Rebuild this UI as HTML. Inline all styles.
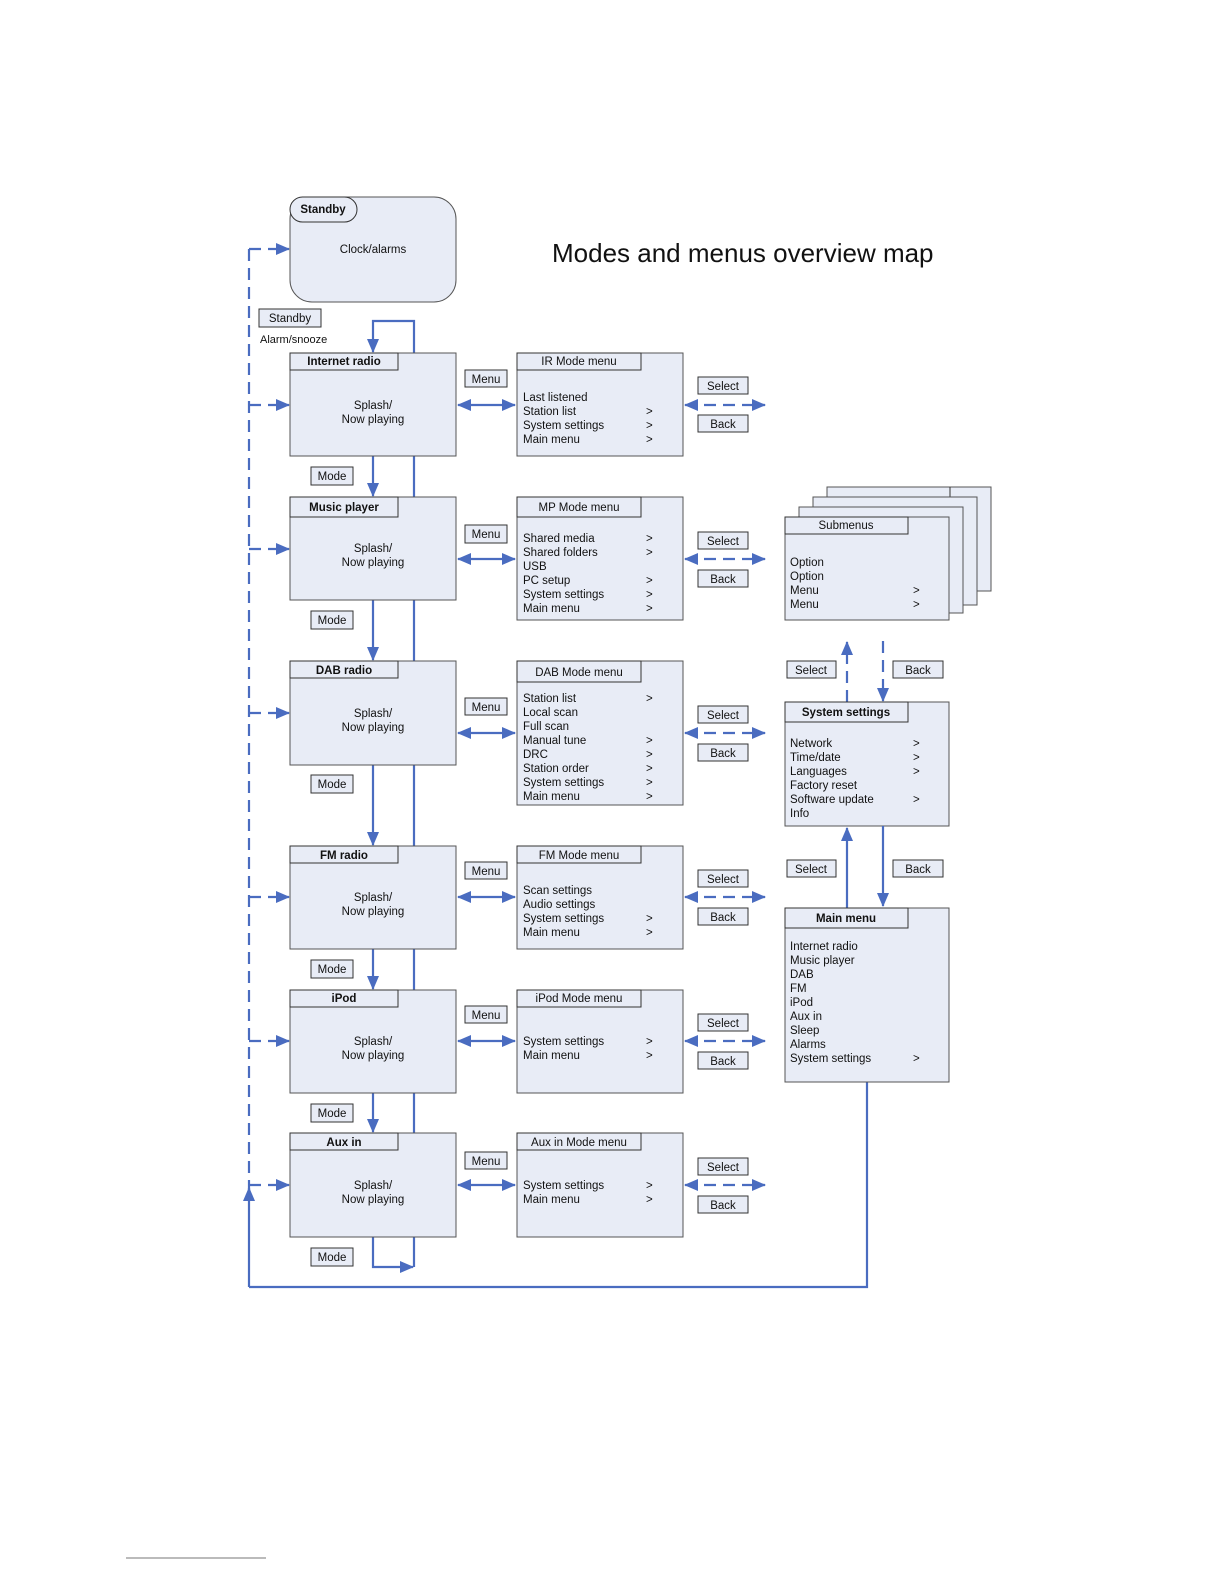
<!DOCTYPE html>
<html><head><meta charset="utf-8"><style>
html,body{margin:0;padding:0;background:#fff;overflow:hidden;width:1224px;height:1584px;}
svg{display:block;}
text{font-family:"Liberation Sans",Arial,sans-serif;font-size:11.5px;fill:#111;}
.b{font-weight:bold;}
.box{fill:#e8ecf6;stroke:#555;stroke-width:1;}
.hd{fill:#e8ecf6;stroke:#333;stroke-width:1;}
.lbl{fill:#e8ecf6;stroke:#333;stroke-width:1;}
.ln{stroke:#4a6cc0;stroke-width:2.2;fill:none;}
.ds{stroke:#4a6cc0;stroke-width:2.2;fill:none;stroke-dasharray:12,7;}
</style></head><body>
<svg width="1224" height="1584" viewBox="0 0 1224 1584" xmlns="http://www.w3.org/2000/svg">
<defs>
<marker id="as" markerWidth="14" markerHeight="12" refX="13" refY="6" orient="auto-start-reverse" markerUnits="userSpaceOnUse" viewBox="0 0 14 12"><path d="M0,0 L14,6 L0,12 z" fill="#4a6cc0"/></marker>
</defs>

<text x="552" y="262" style="font-size:26px">Modes and menus overview map</text>

<path class="ds" d="M249,249 V1190"/>
<path class="ln" d="M249,1287 V1188" marker-end="url(#as)"/>
<path class="ln" d="M249,1287 H867 V1082"/>
<g>
<path class="ds" d="M249,249 H289" marker-end="url(#as)"/>
<path class="ds" d="M249,405 H289" marker-end="url(#as)"/>
<path class="ds" d="M249,549 H289" marker-end="url(#as)"/>
<path class="ds" d="M249,713 H289" marker-end="url(#as)"/>
<path class="ds" d="M249,897 H289" marker-end="url(#as)"/>
<path class="ds" d="M249,1041 H289" marker-end="url(#as)"/>
<path class="ds" d="M249,1185 H289" marker-end="url(#as)"/>
</g>

<rect x="290" y="197" width="166" height="105" rx="22" class="box"/>
<rect x="290" y="197" width="67" height="25" rx="12.5" class="hd"/>
<text x="323" y="213" text-anchor="middle" class="b">Standby</text>
<text x="373" y="253" text-anchor="middle">Clock/alarms</text>
<rect x="259" y="309" width="62" height="18" class="lbl"/>
<text x="290" y="322" text-anchor="middle">Standby</text>
<text x="260" y="343" style="font-size:11px">Alarm/snooze</text>

<path class="ln" d="M414,1267 V321 H373 V352" marker-end="url(#as)"/>
<path class="ln" d="M373,456 V496" marker-end="url(#as)"/>
<path class="ln" d="M373,600 V660" marker-end="url(#as)"/>
<path class="ln" d="M373,765 V845" marker-end="url(#as)"/>
<path class="ln" d="M373,949 V989" marker-end="url(#as)"/>
<path class="ln" d="M373,1093 V1132" marker-end="url(#as)"/>
<path class="ln" d="M373,1237 V1267 H413" marker-end="url(#as)"/>

<g>
<rect x="290" y="353" width="166" height="103" class="box"/><rect x="290" y="353" width="108" height="17" class="hd"/>
<text x="344" y="365" text-anchor="middle" class="b">Internet radio</text>
<text x="373" y="409" text-anchor="middle">Splash/</text><text x="373" y="423" text-anchor="middle">Now playing</text>

<rect x="290" y="497" width="166" height="103" class="box"/><rect x="290" y="497" width="108" height="20" class="hd"/>
<text x="344" y="511" text-anchor="middle" class="b">Music player</text>
<text x="373" y="552" text-anchor="middle">Splash/</text><text x="373" y="566" text-anchor="middle">Now playing</text>

<rect x="290" y="661" width="166" height="104" class="box"/><rect x="290" y="661" width="108" height="17" class="hd"/>
<text x="344" y="674" text-anchor="middle" class="b">DAB radio</text>
<text x="373" y="717" text-anchor="middle">Splash/</text><text x="373" y="731" text-anchor="middle">Now playing</text>

<rect x="290" y="846" width="166" height="103" class="box"/><rect x="290" y="846" width="108" height="17" class="hd"/>
<text x="344" y="859" text-anchor="middle" class="b">FM radio</text>
<text x="373" y="901" text-anchor="middle">Splash/</text><text x="373" y="915" text-anchor="middle">Now playing</text>

<rect x="290" y="990" width="166" height="103" class="box"/><rect x="290" y="990" width="108" height="17" class="hd"/>
<text x="344" y="1002" text-anchor="middle" class="b">iPod</text>
<text x="373" y="1045" text-anchor="middle">Splash/</text><text x="373" y="1059" text-anchor="middle">Now playing</text>

<rect x="290" y="1133" width="166" height="104" class="box"/><rect x="290" y="1133" width="108" height="17" class="hd"/>
<text x="344" y="1146" text-anchor="middle" class="b">Aux in</text>
<text x="373" y="1189" text-anchor="middle">Splash/</text><text x="373" y="1203" text-anchor="middle">Now playing</text>
</g>

<g>
<rect x="311" y="467" width="42" height="18" class="lbl"/><text x="332" y="480" text-anchor="middle">Mode</text>
<rect x="311" y="611" width="42" height="18" class="lbl"/><text x="332" y="624" text-anchor="middle">Mode</text>
<rect x="311" y="775" width="42" height="18" class="lbl"/><text x="332" y="788" text-anchor="middle">Mode</text>
<rect x="311" y="960" width="42" height="18" class="lbl"/><text x="332" y="973" text-anchor="middle">Mode</text>
<rect x="311" y="1104" width="42" height="18" class="lbl"/><text x="332" y="1117" text-anchor="middle">Mode</text>
<rect x="311" y="1248" width="42" height="18" class="lbl"/><text x="332" y="1261" text-anchor="middle">Mode</text>
</g>

<g>
<rect x="465" y="370" width="42" height="17" class="lbl"/><text x="486" y="383" text-anchor="middle">Menu</text>
<path class="ln" d="M458,405 H515" marker-start="url(#as)" marker-end="url(#as)"/>
<rect x="465" y="525" width="42" height="18" class="lbl"/><text x="486" y="538" text-anchor="middle">Menu</text>
<path class="ln" d="M458,559 H515" marker-start="url(#as)" marker-end="url(#as)"/>
<rect x="465" y="698" width="42" height="17" class="lbl"/><text x="486" y="711" text-anchor="middle">Menu</text>
<path class="ln" d="M458,733 H515" marker-start="url(#as)" marker-end="url(#as)"/>
<rect x="465" y="862" width="42" height="17" class="lbl"/><text x="486" y="875" text-anchor="middle">Menu</text>
<path class="ln" d="M458,897 H515" marker-start="url(#as)" marker-end="url(#as)"/>
<rect x="465" y="1006" width="42" height="17" class="lbl"/><text x="486" y="1019" text-anchor="middle">Menu</text>
<path class="ln" d="M458,1041 H515" marker-start="url(#as)" marker-end="url(#as)"/>
<rect x="465" y="1152" width="42" height="17" class="lbl"/><text x="486" y="1165" text-anchor="middle">Menu</text>
<path class="ln" d="M458,1185 H515" marker-start="url(#as)" marker-end="url(#as)"/>
</g>

<g>
<rect x="517" y="353" width="166" height="103" class="box"/><rect x="517" y="353" width="124" height="17" class="hd"/>
<text x="579" y="365" text-anchor="middle">IR Mode menu</text>
<text x="523" y="401">Last listened</text>
<text x="523" y="415">Station list</text><text x="646" y="415">&gt;</text>
<text x="523" y="429">System settings</text><text x="646" y="429">&gt;</text>
<text x="523" y="443">Main menu</text><text x="646" y="443">&gt;</text>

<rect x="517" y="497" width="166" height="123" class="box"/><rect x="517" y="497" width="124" height="20" class="hd"/>
<text x="579" y="511" text-anchor="middle">MP Mode menu</text>
<text x="523" y="542">Shared media</text><text x="646" y="542">&gt;</text>
<text x="523" y="556">Shared folders</text><text x="646" y="556">&gt;</text>
<text x="523" y="570">USB</text>
<text x="523" y="584">PC setup</text><text x="646" y="584">&gt;</text>
<text x="523" y="598">System settings</text><text x="646" y="598">&gt;</text>
<text x="523" y="612">Main menu</text><text x="646" y="612">&gt;</text>

<rect x="517" y="661" width="166" height="144" class="box"/><rect x="517" y="661" width="124" height="21" class="hd"/>
<text x="579" y="676" text-anchor="middle">DAB Mode menu</text>
<text x="523" y="702">Station list</text><text x="646" y="702">&gt;</text>
<text x="523" y="716">Local scan</text>
<text x="523" y="730">Full scan</text>
<text x="523" y="744">Manual tune</text><text x="646" y="744">&gt;</text>
<text x="523" y="758">DRC</text><text x="646" y="758">&gt;</text>
<text x="523" y="772">Station order</text><text x="646" y="772">&gt;</text>
<text x="523" y="786">System settings</text><text x="646" y="786">&gt;</text>
<text x="523" y="800">Main menu</text><text x="646" y="800">&gt;</text>

<rect x="517" y="846" width="166" height="103" class="box"/><rect x="517" y="846" width="124" height="17" class="hd"/>
<text x="579" y="859" text-anchor="middle">FM Mode menu</text>
<text x="523" y="894">Scan settings</text>
<text x="523" y="908">Audio settings</text>
<text x="523" y="922">System settings</text><text x="646" y="922">&gt;</text>
<text x="523" y="936">Main menu</text><text x="646" y="936">&gt;</text>

<rect x="517" y="990" width="166" height="103" class="box"/><rect x="517" y="990" width="124" height="17" class="hd"/>
<text x="579" y="1002" text-anchor="middle">iPod Mode menu</text>
<text x="523" y="1045">System settings</text><text x="646" y="1045">&gt;</text>
<text x="523" y="1059">Main menu</text><text x="646" y="1059">&gt;</text>

<rect x="517" y="1133" width="166" height="104" class="box"/><rect x="517" y="1133" width="124" height="17" class="hd"/>
<text x="579" y="1146" text-anchor="middle">Aux in Mode menu</text>
<text x="523" y="1189">System settings</text><text x="646" y="1189">&gt;</text>
<text x="523" y="1203">Main menu</text><text x="646" y="1203">&gt;</text>
</g>

<g>
<rect x="698" y="377" width="50" height="17" class="lbl"/><text x="723" y="390" text-anchor="middle">Select</text>
<rect x="698" y="415" width="50" height="17" class="lbl"/><text x="723" y="428" text-anchor="middle">Back</text>
<path class="ds" d="M685,405 H765" marker-start="url(#as)" marker-end="url(#as)"/>
<rect x="698" y="532" width="50" height="17" class="lbl"/><text x="723" y="545" text-anchor="middle">Select</text>
<rect x="698" y="570" width="50" height="17" class="lbl"/><text x="723" y="583" text-anchor="middle">Back</text>
<path class="ds" d="M685,559 H765" marker-start="url(#as)" marker-end="url(#as)"/>
<rect x="698" y="706" width="50" height="17" class="lbl"/><text x="723" y="719" text-anchor="middle">Select</text>
<rect x="698" y="744" width="50" height="17" class="lbl"/><text x="723" y="757" text-anchor="middle">Back</text>
<path class="ds" d="M685,733 H765" marker-start="url(#as)" marker-end="url(#as)"/>
<rect x="698" y="870" width="50" height="17" class="lbl"/><text x="723" y="883" text-anchor="middle">Select</text>
<rect x="698" y="908" width="50" height="17" class="lbl"/><text x="723" y="921" text-anchor="middle">Back</text>
<path class="ds" d="M685,897 H765" marker-start="url(#as)" marker-end="url(#as)"/>
<rect x="698" y="1014" width="50" height="17" class="lbl"/><text x="723" y="1027" text-anchor="middle">Select</text>
<rect x="698" y="1052" width="50" height="17" class="lbl"/><text x="723" y="1065" text-anchor="middle">Back</text>
<path class="ds" d="M685,1041 H765" marker-start="url(#as)" marker-end="url(#as)"/>
<rect x="698" y="1158" width="50" height="17" class="lbl"/><text x="723" y="1171" text-anchor="middle">Select</text>
<rect x="698" y="1196" width="50" height="17" class="lbl"/><text x="723" y="1209" text-anchor="middle">Back</text>
<path class="ds" d="M685,1185 H765" marker-start="url(#as)" marker-end="url(#as)"/>
</g>

<g>
<rect x="827" y="487" width="164" height="104" class="box"/><line x1="827" y1="503" x2="950" y2="503" stroke="#333"/><line x1="950" y1="487" x2="950" y2="503" stroke="#333"/>
<rect x="813" y="497" width="164" height="108" class="box" stroke="#222"/><line x1="813" y1="513" x2="936" y2="513" stroke="#333"/>
<rect x="799" y="507" width="164" height="106" class="box" stroke="#222"/><line x1="799" y1="523" x2="922" y2="523" stroke="#333"/>
<rect x="785" y="517" width="164" height="103" class="box"/><rect x="785" y="517" width="123" height="17" class="hd"/>
<text x="846" y="529" text-anchor="middle">Submenus</text>
<text x="790" y="566">Option</text>
<text x="790" y="580">Option</text>
<text x="790" y="594">Menu</text><text x="913" y="594">&gt;</text>
<text x="790" y="608">Menu</text><text x="913" y="608">&gt;</text>
</g>

<path class="ds" d="M847,702 V642" marker-end="url(#as)"/>
<path class="ds" d="M883,641 V701" marker-end="url(#as)"/>
<rect x="787" y="661" width="49" height="17" class="lbl"/><text x="811" y="674" text-anchor="middle">Select</text>
<rect x="893" y="661" width="50" height="17" class="lbl"/><text x="918" y="674" text-anchor="middle">Back</text>

<rect x="785" y="702" width="164" height="124" class="box"/><rect x="785" y="702" width="123" height="20" class="hd"/>
<text x="846" y="716" text-anchor="middle" class="b">System settings</text>
<text x="790" y="747">Network</text><text x="913" y="747">&gt;</text>
<text x="790" y="761">Time/date</text><text x="913" y="761">&gt;</text>
<text x="790" y="775">Languages</text><text x="913" y="775">&gt;</text>
<text x="790" y="789">Factory reset</text>
<text x="790" y="803">Software update</text><text x="913" y="803">&gt;</text>
<text x="790" y="817">Info</text>

<path class="ln" d="M847,908 V828" marker-end="url(#as)"/>
<path class="ln" d="M883,826 V906" marker-end="url(#as)"/>
<rect x="787" y="860" width="49" height="17" class="lbl"/><text x="811" y="873" text-anchor="middle">Select</text>
<rect x="893" y="860" width="50" height="17" class="lbl"/><text x="918" y="873" text-anchor="middle">Back</text>

<rect x="785" y="908" width="164" height="174" class="box"/><rect x="785" y="908" width="123" height="20" class="hd"/>
<text x="846" y="922" text-anchor="middle" class="b">Main menu</text>
<text x="790" y="950">Internet radio</text>
<text x="790" y="964">Music player</text>
<text x="790" y="978">DAB</text>
<text x="790" y="992">FM</text>
<text x="790" y="1006">iPod</text>
<text x="790" y="1020">Aux in</text>
<text x="790" y="1034">Sleep</text>
<text x="790" y="1048">Alarms</text>
<text x="790" y="1062">System settings</text><text x="913" y="1062">&gt;</text>

<line x1="126" y1="1558" x2="266" y2="1558" stroke="#777" stroke-width="1"/>
</svg>
</body></html>
